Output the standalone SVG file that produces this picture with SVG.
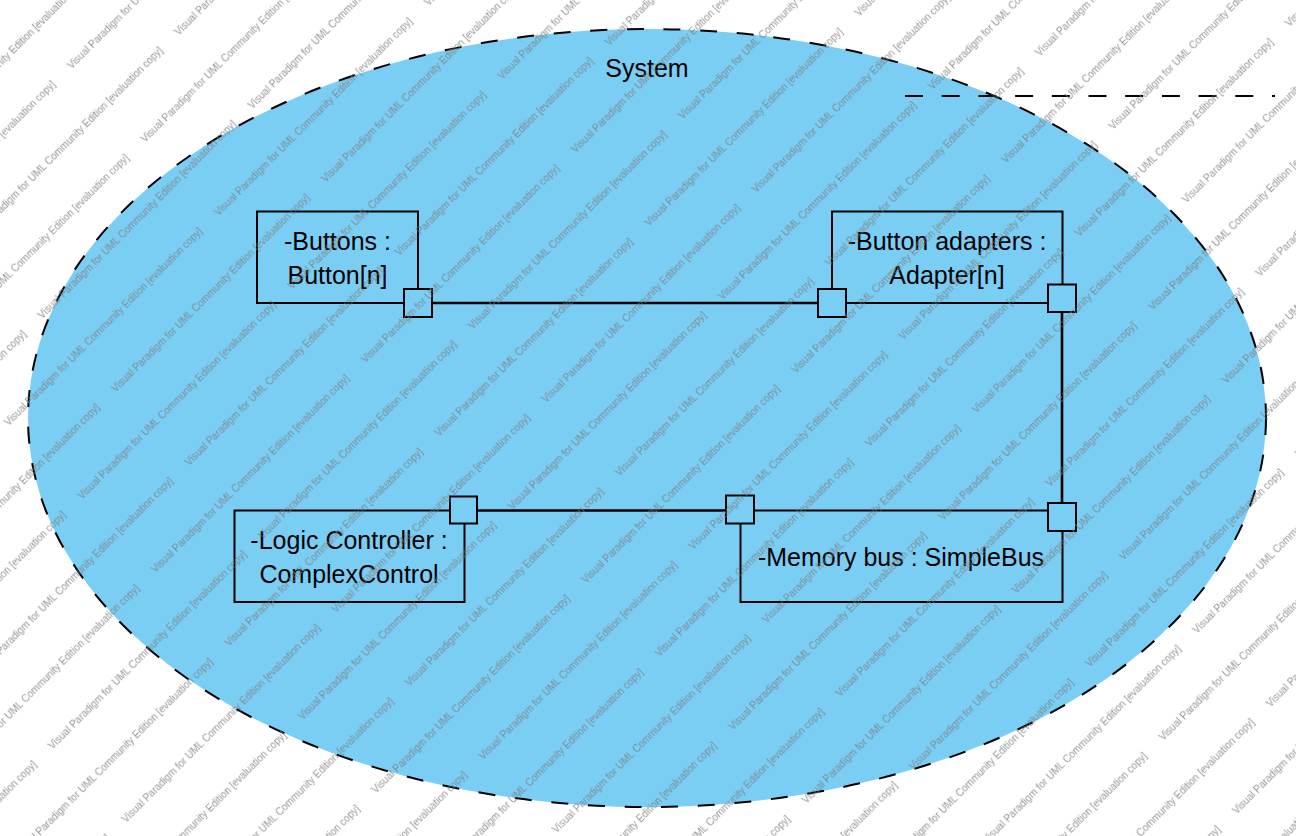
<svg xmlns="http://www.w3.org/2000/svg" width="1296" height="836" viewBox="0 0 1296 836">
<style>
.lbl{font-family:"Liberation Sans",Arial,sans-serif;font-size:25px;fill:#000;text-anchor:middle}
.box{fill:none;stroke:#000;stroke-width:2}
.port{fill:#7acef4;stroke:#000;stroke-width:2}
.conn{stroke:#000;stroke-width:2.6;fill:none}
.dash{stroke:#000;stroke-width:2;fill:none}
.wm{font-family:"Liberation Sans",Arial,sans-serif;font-size:10px;fill:#7a7a7a;fill-opacity:0.8}
</style>
<defs>
<pattern id="wmark" patternUnits="userSpaceOnUse" width="297" height="103.9" patternTransform="rotate(-45)">
<text class="wm" x="1.4" y="100.4">Visual Paradigm for UML Community Edition [evaluation copy]</text>
<text class="wm" x="101.1" y="48.4">Visual Paradigm for UML Community Edition [evaluation copy]</text>
<text class="wm" x="-195.9" y="48.4">Visual Paradigm for UML Community Edition [evaluation copy]</text>
</pattern>
</defs>
<rect x="0" y="0" width="1296" height="836" fill="#ffffff"/>
<g id="system">
<ellipse cx="647" cy="418" rx="619" ry="389" fill="#7acef4" stroke="#000" stroke-width="2" stroke-dasharray="17 19.7"/>
<text class="lbl" x="647" y="77">System</text>
</g>
<g id="boundary-line">
<line class="dash" x1="905" y1="96" x2="1275" y2="96" stroke-dasharray="18 18.7"/>
</g>
<g id="connectors">
<path class="conn" d="M432,303 H818"/>
<path class="conn" d="M1062,311.5 V503"/>
<path class="conn" d="M477,510.5 H726"/>
</g>
<g id="buttons">
<rect class="box" x="257" y="211.5" width="161" height="91.5"/>
<text class="lbl" x="337.5" y="250">-Buttons :</text>
<text class="lbl" x="337.5" y="284">Button[n]</text>
<rect class="port" x="404" y="289" width="28" height="28"/>
</g>
<g id="button-adapters">
<rect class="box" x="832" y="211.5" width="230.5" height="91.5"/>
<text class="lbl" x="947" y="250">-Button adapters :</text>
<text class="lbl" x="947" y="284">Adapter[n]</text>
<rect class="port" x="818" y="289" width="28" height="28"/>
<rect class="port" x="1048" y="284.5" width="28" height="27.5"/>
</g>
<g id="logic-controller">
<rect class="box" x="234.5" y="510.5" width="230" height="91.5"/>
<text class="lbl" x="349" y="549">-Logic Controller :</text>
<text class="lbl" x="349" y="583">ComplexControl</text>
<rect class="port" x="450" y="496.5" width="27" height="27"/>
</g>
<g id="memory-bus">
<rect class="box" x="740.5" y="510.5" width="322" height="91.5"/>
<text class="lbl" x="901" y="566">-Memory bus : SimpleBus</text>
<rect class="port" x="726" y="495.5" width="28" height="28"/>
<rect class="port" x="1048" y="503" width="28" height="28"/>
</g>
<g id="watermark">
<rect x="0" y="0" width="1296" height="836" fill="url(#wmark)"/>
</g>
</svg>
